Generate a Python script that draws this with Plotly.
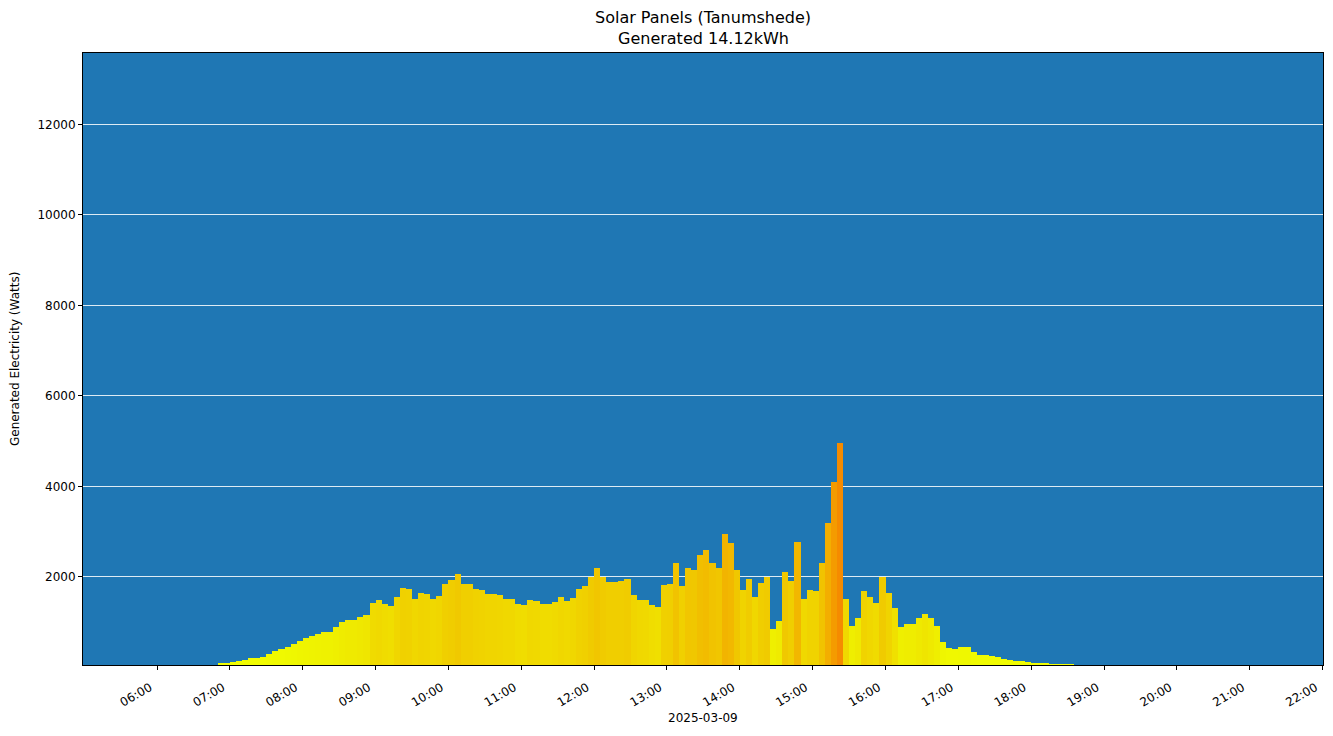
import pandas as pd
import plotly.graph_objects as go

# 5-minute readings, 2025-03-09, first bar at 06:50
day = "2025-03-09"
start_time = "06:50"
step_minutes = 5

watts = [
    # 06:50 - 08:50
    100, 105, 120, 140, 165, 195, 210, 230, 290, 355, 395, 440, 520,
    580, 640, 700, 725, 780, 790, 880, 1000, 1050, 1055, 1110, 1150,
    # 08:55 - 10:50
    1420, 1480, 1400, 1350, 1560, 1760, 1720, 1520, 1650, 1630, 1500, 1580,
    1830, 1930, 2060, 1850, 1840, 1720, 1700, 1630, 1610, 1590, 1500, 1510,
    # 10:55 - 12:55
    1390, 1380, 1490, 1470, 1400, 1390, 1450, 1550, 1470, 1540, 1740, 1800,
    1990, 2200, 1990, 1880, 1890, 1900, 1950, 1600, 1490, 1480, 1380, 1330, 1820,
    # 13:00 - 14:35
    1850, 2300, 1800, 2200, 2150, 2480, 2600, 2300, 2200, 2950,
    2750, 2150, 1700, 1950, 1550, 1870, 2000, 850, 1030, 2100,
    # 14:40 - 16:35
    1900, 2780, 1500, 1700, 1690, 2300, 3200, 4100, 4950, 1500, 910, 1080,
    1680, 1550, 1420, 2000, 1650, 1300, 880, 950, 960, 1080, 1170, 1080,
    # 16:40 - 18:30
    910, 560, 415, 410, 450, 450, 340, 280, 270, 240, 220, 190,
    165, 145, 130, 115, 100, 100, 90, 75, 75, 75, 75,
]

times = pd.date_range(f"{day} {start_time}", periods=len(watts), freq=f"{step_minutes}min")

title_lines = ["Solar Panels (Tanumshede)", "Generated 14.12kWh"]
x_label = day
y_label = "Generated Electricity (Watts)"
y_ticks = [2000, 4000, 6000, 8000, 10000, 12000]

# yellow -> orange, by generated power
power_colors = [
    [0.0, "#f2ff00"],
    [0.1, "#eff700"],
    [0.2, "#efec00"],
    [0.3, "#f0d800"],
    [0.4, "#f0cb00"],
    [0.55, "#f2b800"],
    [0.75, "#f4a200"],
    [1.0, "#f58a00"],
]

fig = go.Figure(
    go.Bar(
        x=times,
        y=watts,
        width=step_minutes * 60 * 1000,
        offset=0,
        marker=dict(
            color=watts,
            colorscale=power_colors,
            cmin=0,
            cmax=5000,
            line=dict(width=0),
        ),
        showlegend=False,
    )
)

# the page body adds 8px around the figure, so the figure is 16px smaller than the window
font = "DejaVu Sans, sans-serif"
fig.update_layout(
    width=1317,
    height=720,
    margin=dict(l=75, r=2, t=45, b=63, autoexpand=False),
    paper_bgcolor="white",
    plot_bgcolor="#1f77b4",
    bargap=0,
    font=dict(family=font, size=12, color="black"),
)

# two-line title and y label placed by hand (matplotlib-like positions)
for text, y in zip(title_lines, [1.0572, 1.0229]):
    fig.add_annotation(
        text=text, xref="paper", yref="paper", x=0.5, y=y,
        showarrow=False, font=dict(size=16), xanchor="center", yanchor="middle",
    )
fig.add_annotation(
    text=y_label, xref="paper", yref="paper", x=-0.0548, y=0.5, textangle=-90,
    showarrow=False, font=dict(size=12), xanchor="center", yanchor="middle",
)
fig.add_annotation(
    text=x_label, xref="paper", yref="paper", x=0.5, y=-0.0859,
    showarrow=False, font=dict(size=12), xanchor="center", yanchor="middle",
)

fig.update_xaxes(
    type="date",
    range=[f"{day} 04:59:00", f"{day} 22:00:20"],
    tickvals=pd.date_range(f"{day} 06:00", f"{day} 22:00", freq="1h"),
    tickformat="%H:%M",
    tickangle=-30,
    ticks="outside",
    ticklen=4,
    tickcolor="black",
    ticklabeloverflow="allow",
    ticklabelstandoff=6,
    ticklabelshift=-7,
    showgrid=False,
    showline=True,
    linecolor="black",
    linewidth=1,
    mirror=True,
    automargin=False,
    tickfont=dict(size=12),
)

fig.update_yaxes(
    range=[50, 13580],
    tickvals=y_ticks,
    tickformat="d",
    ticks="outside",
    ticklen=4,
    tickcolor="black",
    showgrid=True,
    gridcolor="rgba(255,255,255,0.85)",
    gridwidth=0.8,
    zeroline=False,
    showline=True,
    linecolor="black",
    linewidth=1,
    mirror=True,
    automargin=False,
    tickfont=dict(size=12),
)

fig.write_html("out.html")
